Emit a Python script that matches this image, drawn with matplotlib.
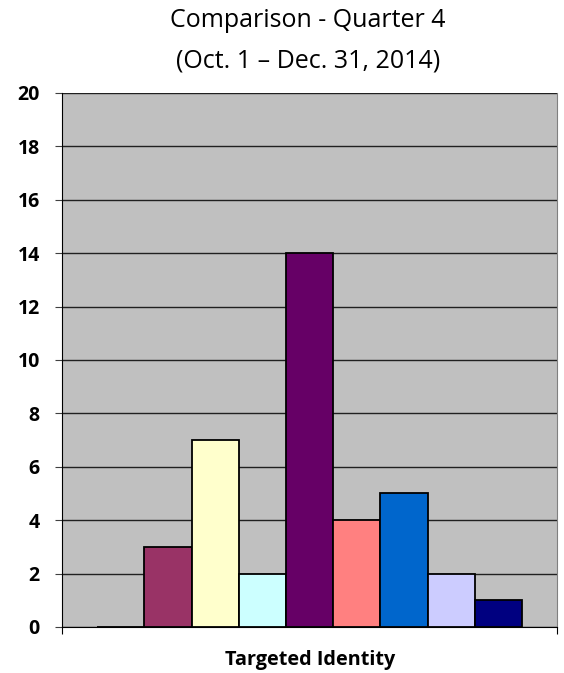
import matplotlib.pyplot as plt
import numpy as np

# categories (legend not shown in the original) and counts
categories = ['Series 1', 'Series 2', 'Series 3', 'Series 4', 'Series 5',
              'Series 6', 'Series 7', 'Series 8', 'Series 9']
values = [0, 3, 7, 2, 14, 4, 5, 2, 1]
colors = ['#9999FF', '#993366', '#FFFFCC', '#CCFFFF', '#660066',
          '#FF8080', '#0066CC', '#CCCCFF', '#000080']
yticks = [0, 2, 4, 6, 8, 10, 12, 14, 16, 18, 20]

fig = plt.figure(figsize=(5.64, 6.73), dpi=100)
ax = fig.add_axes([0.110, 0.0684, 0.878, 0.7935])
ax.set_facecolor('#C0C0C0')

x = np.arange(len(values))
ax.bar(x, values, width=1.0, color=colors, edgecolor='black', linewidth=1.3, zorder=3)

ax.set_ylim(0, 20)
ax.set_xlim(-1.245, len(values) - 1 + 1.245)
ax.set_yticks(yticks)
ax.set_yticklabels([str(t) for t in yticks], fontweight='bold', fontsize=14, family='Open Sans')
ax.yaxis.grid(True, color='#202020', linewidth=1.0, zorder=1)
ax.set_axisbelow(True)

ax.set_xticks([-1.245, len(values) - 1 + 1.245])
ax.set_xticklabels(['', ''])
ax.tick_params(axis='x', length=5, color='black', direction='out')
ax.tick_params(axis='y', length=5, color='#404040', direction='out', pad=11)

ax.spines['top'].set_visible(False)
ax.spines['right'].set_color('#808080')
ax.spines['left'].set_color('black')
ax.spines['bottom'].set_color('black')

fig.text(0.549, 1 - 665 / 673, 'Targeted Identity', ha='center', va='baseline',
         fontweight='bold', fontsize=14.3, family='Open Sans')
fig.text(0.546, 1 - 27 / 673, 'Comparison - Quarter 4', ha='center', va='baseline',
         fontsize=18, family='Open Sans')
fig.text(0.546, 1 - 68 / 673, '(Oct. 1 \u2013 Dec. 31, 2014)', ha='center', va='baseline',
         fontsize=18, family='Open Sans')

fig.savefig('out.png', dpi=100)
